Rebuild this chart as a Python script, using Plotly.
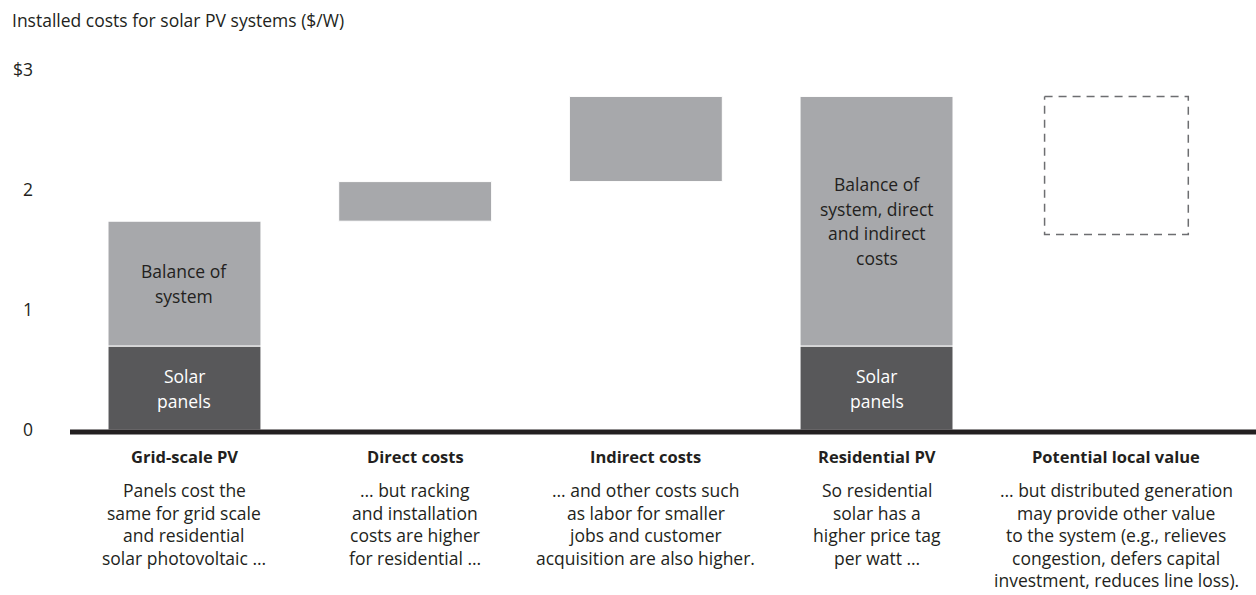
import plotly.graph_objects as go

# ---- data ----
categories = ["Grid-scale PV", "Direct costs", "Indirect costs", "Residential PV", "Potential local value"]
descriptions = [
    ["Panels cost the", "same for grid scale", "and residential", "solar photovoltaic …"],
    ["… but racking", "and installation", "costs are higher", "for residential …"],
    ["… and other costs such", "as labor for smaller", "jobs and customer", "acquisition are also higher."],
    ["So residential", "solar has a", "higher price tag", "per watt …"],
    ["… but distributed generation", "may provide other value", "to the system (e.g., relieves",
     "congestion, defers capital", "investment, reduces line loss)."],
]
panel_cost = 0.70          # solar panels, $/W (same for grid-scale and residential)
grid_bos = 1.04            # grid-scale balance of system
direct_costs = 0.33        # extra direct costs for residential
indirect_costs = 0.71      # extra indirect costs for residential
local_value_low = 1.63     # lower bound of potential local value
tick_vals = [0, 1, 2, 3]
tick_text = ["0", "1", "2", "$3"]
axis_title = "Installed costs for solar PV systems ($/W)"

# ---- derived values ----
grid_total = panel_cost + grid_bos
direct_top = grid_total + direct_costs
residential_total = direct_top + indirect_costs
residential_other = residential_total - panel_cost

# ---- layout / style ----
col_x = [0, 1, 2, 3, 4.04]
bar_w = 0.663
box_w = 0.623
DARK = "#58585a"
LIGHT = "#a7a8ab"
TXT = "#231f20"
FONT = "Open Sans"
FS = 17.5

fig = go.Figure()

fig.add_trace(go.Bar(
    x=[col_x[0], col_x[3]], y=[panel_cost, panel_cost], base=[0, 0],
    width=bar_w, marker=dict(color=DARK, line=dict(color="white", width=1)),
    hoverinfo="skip", showlegend=False,
))
fig.add_trace(go.Bar(
    x=[col_x[0], col_x[1], col_x[2], col_x[3]],
    y=[grid_bos, direct_costs, indirect_costs, residential_other],
    base=[panel_cost, grid_total, direct_top, panel_cost],
    width=bar_w, marker=dict(color=LIGHT, line=dict(color="white", width=1)),
    hoverinfo="skip", showlegend=False,
))
# dashed outline for potential local value
bx = col_x[4]
fig.add_trace(go.Scatter(
    x=[bx - box_w / 2, bx + box_w / 2, bx + box_w / 2, bx - box_w / 2, bx - box_w / 2],
    y=[residential_total, residential_total, local_value_low, local_value_low, residential_total],
    mode="lines", line=dict(color="#6d6e71", width=1.5, dash="8px,6px"),
    hoverinfo="skip", showlegend=False,
))

annotations = []


def inside_label(xc, ymid, lines, color, spacing):
    n = len(lines)
    for k, line in enumerate(lines):
        annotations.append(dict(
            x=xc, y=ymid, xref="x", yref="y", showarrow=False, xanchor="center",
            yanchor="middle", yshift=((n - 1) / 2 - k) * spacing, text=line,
            font=dict(color=color, size=FS, family=FONT),
        ))


inside_label(col_x[0], (panel_cost + grid_total) / 2, ["Balance of", "system"], TXT, 25)
inside_label(col_x[0], panel_cost / 2, ["Solar", "panels"], "white", 25)
inside_label(col_x[3], (panel_cost + residential_total) / 2,
             ["Balance of", "system, direct", "and indirect", "costs"], TXT, 24.5)
inside_label(col_x[3], panel_cost / 2, ["Solar", "panels"], "white", 25)

# bottom category titles and descriptions
for i, (cat, lines) in enumerate(zip(categories, descriptions)):
    annotations.append(dict(
        x=col_x[i], y=0, xref="x", yref="paper", yanchor="middle", xanchor="center",
        yshift=-26, text=cat, showarrow=False,
        font=dict(color=TXT, size=16.5, family=FONT, weight="bold"),
    ))
    for j, line in enumerate(lines):
        annotations.append(dict(
            x=col_x[i], y=0, xref="x", yref="paper", yanchor="middle", xanchor="center",
            yshift=-60 - 22.5 * j, text=line, showarrow=False,
            font=dict(color=TXT, size=FS, family=FONT),
        ))

# axis title
annotations.append(dict(
    x=0, y=1, xref="paper", yref="paper", xanchor="left", yanchor="middle",
    xshift=-60, yshift=50, text=axis_title, showarrow=False,
    font=dict(color=TXT, size=FS, family=FONT),
))

fig.update_layout(
    width=1256, height=595,
    margin=dict(l=70, r=0, t=70, b=165),
    plot_bgcolor="white", paper_bgcolor="white",
    barmode="overlay",
    annotations=annotations,
    shapes=[dict(type="line", xref="paper", yref="paper", x0=0, x1=1,
                 y0=-2 / 360, y1=-2 / 360,
                 line=dict(color=TXT, width=5), layer="above")],
    xaxis=dict(range=[-0.4963, 4.645], showticklabels=False, showgrid=False,
               zeroline=False, showline=False, ticks=""),
    yaxis=dict(range=[0, 3], tickvals=tick_vals, ticktext=tick_text, showgrid=False,
               zeroline=False, showline=False, ticks="", ticklabelstandoff=36,
               tickfont=dict(color=TXT, size=FS, family=FONT)),
    font=dict(family=FONT, color=TXT),
)

fig.write_html("out.html", post_script="document.body.style.margin='0';",
               config={"displayModeBar": False})
